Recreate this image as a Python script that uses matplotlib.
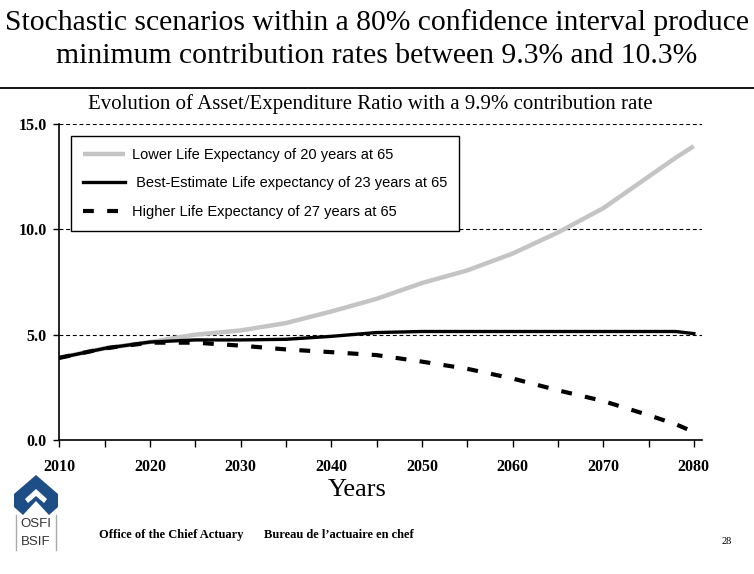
import matplotlib
matplotlib.use("Agg")
import matplotlib.pyplot as plt
from matplotlib.patches import Polygon
from matplotlib.lines import Line2D

years = [2010, 2015, 2020, 2025, 2030, 2035, 2040, 2045, 2050, 2055, 2060, 2065, 2070, 2075, 2078, 2080]
lower_le = [3.9, 4.35, 4.65, 5.0, 5.2, 5.55, 6.1, 6.7, 7.45, 8.05, 8.85, 9.85, 11.0, 12.5, 13.4, 13.95]
best_le = [3.9, 4.35, 4.65, 4.75, 4.75, 4.78, 4.92, 5.1, 5.15, 5.15, 5.15, 5.15, 5.15, 5.15, 5.15, 5.05]
higher_le = [3.9, 4.35, 4.62, 4.62, 4.48, 4.3, 4.17, 4.03, 3.72, 3.38, 2.92, 2.36, 1.85, 1.18, 0.75, 0.38]

labels = ["Lower Life Expectancy of 20 years at 65",
          " Best-Estimate Life expectancy of 23 years at 65",
          "Higher Life Expectancy of 27 years at 65"]
yticks = [0, 5, 10, 15]
xticks_major = [2010, 2020, 2030, 2040, 2050, 2060, 2070, 2080]
xticks_minor = [2015, 2025, 2035, 2045, 2055, 2065, 2075]

W, H = 754, 574
fig = plt.figure(figsize=(W / 100, H / 100), dpi=100)
serif = "Liberation Serif"
sans = "Liberation Sans"

# Slide title
fig.text(0.5, 1 - 23 / H, "Stochastic scenarios within a 80% confidence interval produce",
         ha="center", va="center", family=serif, fontsize=21.3)
fig.text(0.5, 1 - 56 / H, "minimum contribution rates between 9.3% and 10.3%",
         ha="center", va="center", family=serif, fontsize=21.3)
fig.add_artist(Line2D([0, 1], [1 - 88 / H, 1 - 88 / H], color="black", lw=1.3,
                      transform=fig.transFigure))
fig.text(370 / W, 1 - 104 / H, "Evolution of Asset/Expenditure Ratio with a 9.9% contribution rate",
         ha="center", va="center", family=serif, fontsize=15)

left, right, top, bottom = 59.3, 702, 124, 440
ax = fig.add_axes([left / W, 1 - bottom / H, (right - left) / W, (bottom - top) / H])

ax.plot(years, lower_le, color="#c4c4c4", lw=3.2, label=labels[0], solid_capstyle="butt")
ax.plot(years, best_le, color="black", lw=2.4, label=labels[1])
ax.plot(years, higher_le, color="black", lw=3.0, dashes=(2.6, 3.2), label=labels[2])

for v in [5, 10, 15]:
    ax.axhline(v, color="black", lw=0.8, dashes=(3.5, 2.5), zorder=0)

ax.set_xlim(2010, 2080.9)
ax.set_ylim(0, 15)
ax.spines["top"].set_visible(False)
ax.spines["right"].set_visible(False)
ax.spines["left"].set_linewidth(1.2)
ax.spines["bottom"].set_linewidth(1.2)
ax.set_yticks(yticks)
ax.set_yticklabels([f"{v:.1f}" for v in yticks], family=serif, fontweight="bold", fontsize=11.5)
ax.set_xticks(xticks_major)
ax.set_xticklabels([str(v) for v in xticks_major], family=serif, fontweight="bold", fontsize=11.5)
ax.set_xticks(xticks_minor, minor=True)
ax.tick_params(axis="y", length=4, width=1, pad=5)
ax.tick_params(axis="x", which="both", length=5, width=1, pad=9)
ax.set_xlabel("Years", family=serif, fontsize=19, labelpad=2)
ax.xaxis.set_label_coords((357 - left) / (right - left), -0.125)

leg = ax.legend(loc="upper left", bbox_to_anchor=(71 / W, 1 - 136 / H), bbox_transform=fig.transFigure,
                frameon=True, fancybox=False, edgecolor="black", framealpha=1,
                prop={"family": sans, "size": 10.5}, handlelength=2.9, handletextpad=0.45,
                borderpad=0.8, labelspacing=1.0, borderaxespad=0)
leg.get_frame().set_linewidth(1.0)

# Footer: logo and texts
blue = "#1d4f86"
def px(x, y):
    return (x / W, 1 - y / H)
logo = [px(36, 475), px(58, 494), px(58, 507), px(49, 515), px(36, 501), px(23, 515), px(14, 507), px(14, 494)]
fig.add_artist(Polygon(logo, closed=True, facecolor=blue, edgecolor="none", transform=fig.transFigure))
fig.add_artist(Polygon([px(36, 489), px(47, 499), px(44, 503), px(36, 496), px(28, 503), px(25, 499)],
                       closed=True, facecolor="white", edgecolor="none", transform=fig.transFigure))
fig.text(36 / W, 1 - 524 / H, "OSFI", ha="center", va="center", family=sans, fontsize=9.5, color="#333333")
fig.text(36 / W, 1 - 542 / H, "BSIF", ha="center", va="center", family=sans, fontsize=9.5, color="#333333")
for xx in (16, 56):
    fig.add_artist(Line2D([xx / W, xx / W], [1 - 515 / H, 1 - 550 / H], color="#aaaaaa", lw=1,
                          transform=fig.transFigure))
fig.text(99 / W, 1 - 535 / H, "Office of the Chief Actuary", ha="left", va="center",
         family=serif, fontweight="bold", fontsize=9)
fig.text(264 / W, 1 - 535 / H, "Bureau de l\u2019actuaire en chef", ha="left", va="center",
         family=serif, fontweight="bold", fontsize=9)
fig.text(727 / W, 1 - 542 / H, "28", ha="center", va="center", family=serif, fontsize=7.5)

fig.savefig("out.png", dpi=100)
